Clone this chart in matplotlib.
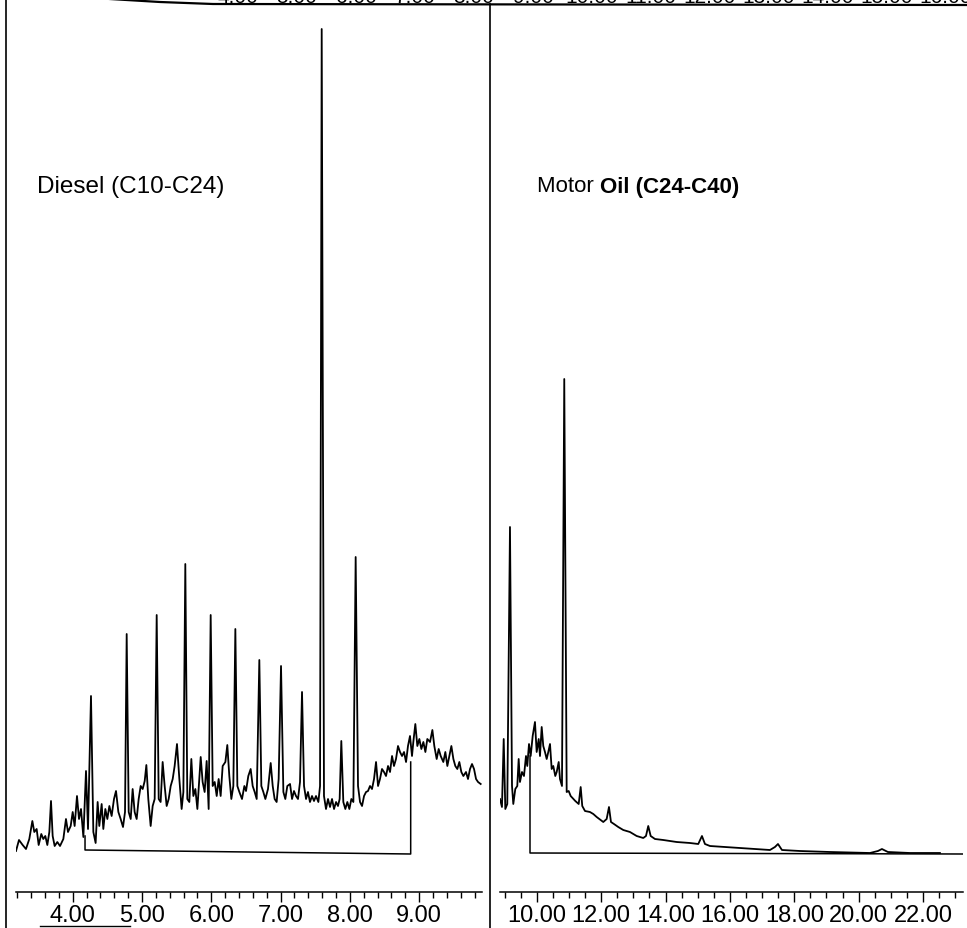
import matplotlib
matplotlib.use('Agg')
import matplotlib.pyplot as plt
from matplotlib.lines import Line2D
from matplotlib.ticker import MultipleLocator, FormatStrFormatter

plt.rcParams['font.family'] = ['Liberation Sans', 'DejaVu Sans']

# ---------------- data (retention time in min, abundance) ----------------
diesel_t = [3.182, 3.225, 3.278, 3.326, 3.374, 3.418, 3.446, 3.480, 3.509, 3.547,
            3.576, 3.605, 3.634, 3.663, 3.687, 3.711, 3.740, 3.778, 3.817, 3.865,
            3.903, 3.932, 3.971, 4.000, 4.028, 4.062, 4.091, 4.120, 4.154, 4.192,
            4.221, 4.264, 4.298, 4.331, 4.360, 4.384, 4.418, 4.442, 4.471, 4.500,
            4.529, 4.562, 4.596, 4.625, 4.659, 4.692, 4.726, 4.755, 4.779, 4.808,
            4.837, 4.865, 4.894, 4.923, 4.952, 4.981, 5.010, 5.039, 5.063, 5.091,
            5.125, 5.154, 5.183, 5.212, 5.241, 5.269, 5.298, 5.327, 5.356, 5.385,
            5.414, 5.443, 5.471, 5.505, 5.539, 5.572, 5.597, 5.625, 5.654, 5.683,
            5.712, 5.741, 5.770, 5.799, 5.827, 5.847, 5.875, 5.904, 5.933, 5.962,
            5.991, 6.020, 6.049, 6.078, 6.106, 6.135, 6.164, 6.203, 6.231, 6.260,
            6.289, 6.318, 6.347, 6.376, 6.405, 6.443, 6.477, 6.501, 6.534, 6.568,
            6.597, 6.626, 6.655, 6.693, 6.722, 6.751, 6.780, 6.818, 6.857, 6.886,
            6.914, 6.943, 6.972, 7.006, 7.040, 7.068, 7.097, 7.136, 7.165, 7.193,
            7.222, 7.251, 7.280, 7.309, 7.338, 7.367, 7.395, 7.424, 7.453, 7.482,
            7.511, 7.545, 7.569, 7.593, 7.626, 7.655, 7.684, 7.713, 7.742, 7.771,
            7.800, 7.828, 7.852, 7.876, 7.905, 7.934, 7.963, 7.992, 8.021, 8.050,
            8.083, 8.117, 8.146, 8.175, 8.204, 8.233, 8.261, 8.290, 8.319, 8.348,
            8.377, 8.406, 8.434, 8.463, 8.492, 8.521, 8.550, 8.579, 8.608, 8.636,
            8.665, 8.694, 8.723, 8.752, 8.781, 8.810, 8.838, 8.867, 8.896, 8.915,
            8.944, 8.973, 9.002, 9.031, 9.060, 9.089, 9.117, 9.156, 9.190, 9.218,
            9.252, 9.281, 9.310, 9.348, 9.377, 9.406, 9.435, 9.464, 9.493, 9.521,
            9.550, 9.579, 9.608, 9.637, 9.675, 9.704, 9.733, 9.762, 9.791, 9.820,
            9.849, 9.887]
diesel_a = [41, 52, 47, 43, 53, 71, 60, 63, 47, 58,
            53, 56, 47, 60, 91, 56, 46, 50, 46, 53,
            73, 60, 66, 80, 66, 96, 73, 83, 55, 121,
            63, 196, 60, 49, 90, 66, 88, 63, 83, 73,
            86, 76, 93, 101, 80, 73, 65, 80, 258, 80,
            73, 103, 80, 73, 93, 106, 103, 111, 127, 93,
            66, 86, 93, 277, 93, 90, 130, 106, 86, 93,
            106, 113, 126, 148, 113, 83, 100, 328, 93, 90,
            133, 96, 103, 83, 113, 135, 110, 100, 131, 83,
            277, 106, 110, 96, 113, 96, 126, 130, 147, 116,
            93, 106, 263, 106, 100, 93, 106, 101, 116, 123,
            106, 100, 93, 232, 106, 100, 93, 103, 129, 106,
            93, 90, 113, 226, 100, 93, 106, 108, 93, 101,
            96, 93, 110, 200, 106, 93, 100, 90, 96, 91,
            96, 90, 106, 863, 96, 83, 93, 85, 93, 83,
            90, 86, 93, 151, 90, 83, 90, 83, 93, 90,
            335, 106, 90, 86, 96, 100, 101, 106, 103, 113,
            130, 106, 113, 123, 120, 116, 126, 120, 136, 126,
            133, 146, 140, 136, 140, 130, 146, 156, 136, 150,
            168, 146, 153, 143, 150, 140, 153, 150, 162, 146,
            133, 143, 136, 130, 140, 126, 136, 146, 133, 126,
            123, 130, 120, 116, 120, 113, 123, 128, 123, 113,
            110, 108]
diesel_base_t = [4.178, 4.178, 8.877, 8.877]
diesel_base_a = [56, 42, 38, 130]

oil_t = [8.858, 8.920, 8.974, 9.024, 9.085, 9.169, 9.232, 9.272, 9.334, 9.396,
         9.439, 9.479, 9.542, 9.604, 9.666, 9.706, 9.760, 9.812, 9.874, 9.945,
         9.998, 10.061, 10.101, 10.154, 10.203, 10.256, 10.309, 10.359, 10.412, 10.464,
         10.514, 10.576, 10.620, 10.682, 10.722, 10.784, 10.855, 10.930, 10.992, 11.054,
         11.198, 11.303, 11.365, 11.414, 11.499, 11.653, 11.757, 11.862, 12.067, 12.172,
         12.244, 12.306, 12.399, 12.532, 12.688, 12.896, 13.104, 13.309, 13.393, 13.464,
         13.539, 13.673, 13.931, 14.346, 14.760, 15.017, 15.132, 15.225, 15.381, 16.312,
         17.244, 17.399, 17.493, 17.617, 18.176, 19.107, 20.350, 20.598, 20.722, 20.908,
         21.591, 22.524]
oil_a = [93, 85, 153, 83, 88, 365, 106, 88, 103, 106,
         133, 110, 120, 116, 136, 126, 148, 136, 156, 170,
         140, 153, 136, 165, 146, 140, 133, 140, 148, 123,
         126, 116, 120, 130, 113, 106, 513, 100, 101, 96,
         91, 88, 105, 86, 81, 80, 78, 75, 70, 73,
         85, 70, 68, 65, 62, 60, 56, 54, 56, 66,
         56, 53, 52, 50, 49, 48, 56, 48, 46, 44,
         42, 45, 48, 42, 41, 40, 39, 41, 43, 40,
         39, 39]
oil_base_t = [9.791, 9.791, 23.234]
oil_base_a = [136, 39, 38]

# labels of the clipped axis of the chromatogram above (scan remnant)
top_labels = ['4.00', '5.00', '6.00', '7.00', '8.00', '9.00', '10.00',
              '11.00', '12.00', '13.00', '14.00', '15.00', '16.00']

# ---------------- figure ----------------
W, H = 967, 929
fig = plt.figure(figsize=(W / 100, H / 100), dpi=100)
fig.patch.set_facecolor('white')


def panel(left, width, xlim, major, minor):
    ax = fig.add_axes([left / W, 36 / H, width / W, 893 / H])
    ax.set_xlim(*xlim)
    ax.set_ylim(0, 893)
    for s in ['top', 'right', 'left']:
        ax.spines[s].set_visible(False)
    ax.spines['bottom'].set_linewidth(1.1)
    ax.set_yticks([])
    ax.xaxis.set_major_locator(MultipleLocator(major))
    ax.xaxis.set_minor_locator(MultipleLocator(minor))
    ax.xaxis.set_major_formatter(FormatStrFormatter('%.2f'))
    ax.tick_params(axis='x', which='major', direction='out', length=7,
                   width=1, labelsize=17, pad=1.5)
    ax.tick_params(axis='x', which='minor', direction='out', length=4, width=1)
    ax.patch.set_alpha(0)
    return ax


ax1 = panel(16, 466, (3.182, 9.906), 1, 0.2)
ax1.plot(diesel_t, diesel_a, color='black', lw=1.3)
ax1.plot(diesel_base_t, diesel_base_a, color='black', lw=1.1)
ax1.text(3.485, 706, 'Diesel (C10-C24)', fontsize=17.5, ha='left', va='center')

ax2 = panel(500, 463, (8.859, 23.24), 2, 0.5)
ax2.plot(oil_t, oil_a, color='black', lw=1.3)
ax2.plot(oil_base_t, oil_base_a, color='black', lw=1.1)
t1 = ax2.text(10.02, 706, 'Motor ', fontsize=16, ha='left', va='center')
ax2.annotate('Oil (C24-C40)', xy=(1, 0), xycoords=t1, ha='left', va='bottom',
             fontsize=16, fontweight='bold')

# scan frame lines
tf = fig.transFigure
fig.add_artist(Line2D([6 / W, 6 / W], [0, 1], transform=tf, color='black', lw=1.2))
fig.add_artist(Line2D([490 / W, 490 / W], [0, 1 - 5 / H], transform=tf,
                      color='black', lw=1.2))
fig.add_artist(Line2D([110 / W, 160 / W, 213 / W, 1], [1, 1 - 3 / H, 1 - 5 / H, 1 - 6 / H],
                      transform=tf, color='black', lw=1.6))
fig.add_artist(Line2D([40 / W, 130 / W], [2 / H, 2 / H], transform=tf,
                      color='black', lw=1.0))

for i, lab in enumerate(top_labels):
    fig.text((238 + 59 * i) / W, 1 - 3 / H, lab, fontsize=15, ha='center',
             va='baseline')

fig.savefig('out.png', dpi=100)
